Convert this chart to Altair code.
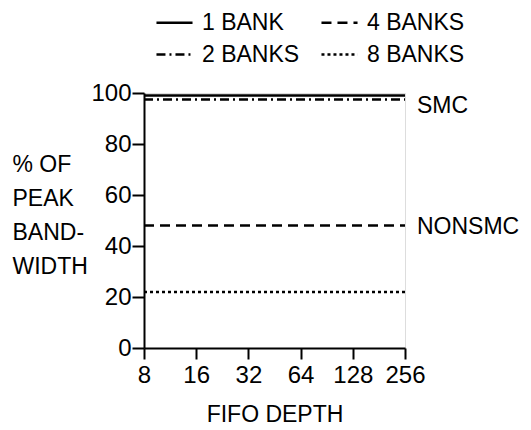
import altair as alt
import pandas as pd

fifo_depth = ["8", "16", "32", "64", "128", "256"]
bank_order = ["1 BANK", "2 BANKS", "4 BANKS", "8 BANKS"]
smc_1_bank = [99, 99, 99, 99, 99, 99]
smc_2_banks = [97.5, 97.5, 97.5, 97.5, 97.5, 97.5]
nonsmc_4_banks = [48, 48, 48, 48, 48, 48]
nonsmc_8_banks = [22, 22, 22, 22, 22, 22]

annot_text = ["SMC", "NONSMC"]
annot_x = ["256", "256"]
annot_y = [95, 47.5]

rows = []
for name, vals in [("1 BANK", smc_1_bank), ("2 BANKS", smc_2_banks),
                   ("4 BANKS", nonsmc_4_banks), ("8 BANKS", nonsmc_8_banks)]:
    for d, v in zip(fifo_depth, vals):
        rows.append({"depth": d, "pct": v, "bank": name})
df = pd.DataFrame(rows)
ann = pd.DataFrame({"depth": annot_x, "pct": annot_y, "label": annot_text})

FONT = "Liberation Sans"

x_enc = alt.X("depth:N", sort=fifo_depth,
              scale=alt.Scale(type="point", padding=0),
              axis=alt.Axis(title="FIFO DEPTH", labelAngle=0, labelFontSize=24,
                            labelFont=FONT, titleFont=FONT, titleFontSize=23,
                            titleFontWeight="normal", tickSize=11, tickWidth=2,
                            domainWidth=2, domainColor="black", tickColor="black",
                            labelColor="black", titleColor="black",
                            labelPadding=4, titlePadding=16))
y_enc = alt.Y("pct:Q", scale=alt.Scale(domain=[0, 100], nice=False),
              axis=alt.Axis(title=["% OF", "PEAK", "BAND-", "WIDTH"],
                            values=[0, 10, 20, 30, 40, 50, 60, 70, 80, 90, 100],
                            labelExpr="datum.value % 20 == 0 ? datum.label : ''",
                            tickSize={"condition": {"test": "datum.value % 20 === 0", "value": 12}, "value": 7},
                            tickWidth=2, domainWidth=2, domainColor="black",
                            tickColor="black", labelColor="black", titleColor="black",
                            labelFontSize=24, labelFont=FONT, titleFont=FONT,
                            titleFontSize=23, titleFontWeight="normal",
                            titleAngle=0, titleAlign="left", titleBaseline="top",
                            titleX=-132, titleY=60, titleLineHeight=34,
                            labelPadding=1, grid=False))

lines = alt.Chart(df).mark_line(color="black", strokeWidth=2.5).encode(
    x=x_enc,
    y=y_enc,
    strokeDash=alt.StrokeDash(
        "bank:N",
        scale=alt.Scale(domain=bank_order,
                        range=[[1, 0], [9, 4, 2, 4], [10, 6], [3, 3]]),
        legend=alt.Legend(title=None, orient="none", legendX=11, legendY=-90,
                          columns=2, columnPadding=16, rowPadding=-4,
                          symbolType="stroke", symbolSize=1300,
                          symbolStrokeWidth=2.5, symbolStrokeColor="black",
                          labelFontSize=23, labelFont=FONT, labelColor="black",
                          labelOffset=8, padding=0),
    ),
    detail="bank:N",
)

labels = alt.Chart(ann).mark_text(align="left", baseline="middle", dx=12,
                                  fontSize=23, font=FONT, color="black").encode(
    x=alt.X("depth:N", sort=fifo_depth),
    y=alt.Y("pct:Q"),
    text="label:N",
)

chart = (lines + labels).properties(
    width=261, height=255,
    padding={"left": 136, "top": 85, "right": 118, "bottom": 80},
    autosize=alt.AutoSizeParams(type="none"),
).configure_view(stroke=None).configure(background="white")

chart.save("out.html", embed_options={"renderer": "svg", "actions": False})
